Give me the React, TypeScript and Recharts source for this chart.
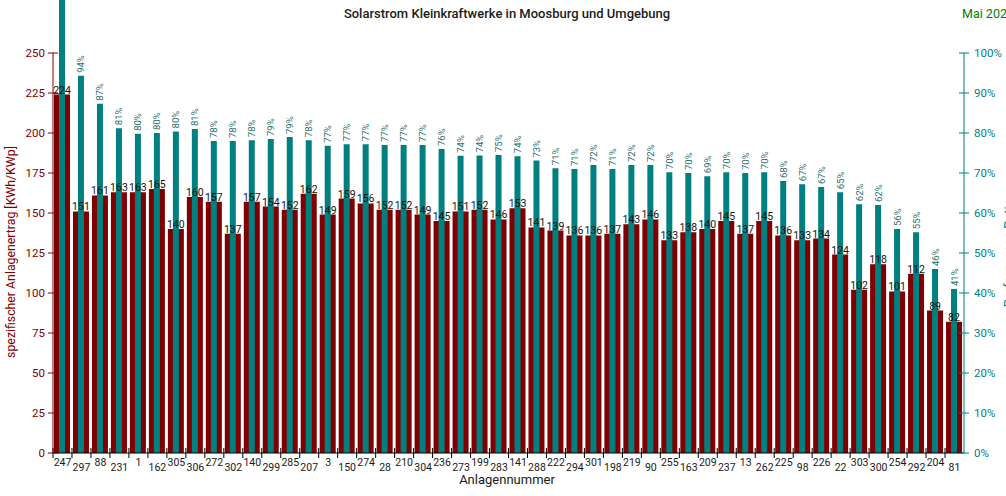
import React from 'react';
import { BarChart, Bar, XAxis, YAxis, LabelList } from 'recharts';

const categories: string[] = [
  '247', '297', '88', '231', '1', '162', '305', '306', '272', '302', '140', '299',
  '285', '207', '3', '150', '274', '28', '210', '304', '236', '273', '199', '283',
  '141', '288', '222', '294', '301', '198', '219', '90', '255', '163', '209', '237',
  '13', '262', '225', '98', '226', '22', '303', '300', '254', '292', '204', '81',
];

const ertrag: number[] = [
  224, 151, 161, 163, 163, 165, 140, 160, 157, 137, 157, 154,
  152, 162, 149, 159, 156, 152, 152, 149, 145, 151, 152, 146,
  153, 141, 139, 136, 136, 137, 143, 146, 133, 138, 140, 145,
  137, 145, 136, 133, 134, 124, 102, 118, 101, 112, 89, 82,
];

const performance: number[] = [
  1.16, 0.943, 0.873, 0.812, 0.798, 0.8, 0.804, 0.81, 0.78, 0.78, 0.782, 0.785,
  0.79, 0.782, 0.768, 0.772, 0.772, 0.77, 0.77, 0.77, 0.76, 0.743, 0.744, 0.745,
  0.742, 0.731, 0.712, 0.71, 0.72, 0.71, 0.72, 0.72, 0.702, 0.7, 0.692, 0.702,
  0.7, 0.702, 0.68, 0.672, 0.665, 0.652, 0.622, 0.62, 0.56, 0.552, 0.46, 0.41,
];

const leftTicks: number[] = [0, 25, 50, 75, 100, 125, 150, 175, 200, 225, 250];
const rightTicks: number[] = [0, 0.1, 0.2, 0.3, 0.4, 0.5, 0.6, 0.7, 0.8, 0.9, 1.0];

const data = categories.map((name, i) => ({
  name,
  ertrag: ertrag[i],
  pr: performance[i],
}));

const W = 1006;
const H = 496;
const LEFT_W = 53;
const RIGHT_W = 42;
const X_H = 43;
const PLOT_H = H - X_H; // 453
const PLOT_W = W - LEFT_W - RIGHT_W;
const BAND = PLOT_W / categories.length;
// top tick (250 / 100%) sits 53px below the plot's top edge
const TOP_GAP = 53;
const LEFT_MAX = 250 * PLOT_H / (PLOT_H - TOP_GAP);
const RIGHT_MAX = 1.0 * PLOT_H / (PLOT_H - TOP_GAP);

const RED = '#7f0000';
const TEAL = '#008080';
const FONT = 'Roboto, "Noto Sans", sans-serif';

const pct = (v: number) => `${Math.round(v * 100)}%`;

const XTick = (props: any) => {
  const { x, y, payload, index } = props;
  const bx = x - BAND / 2;
  return (
    <g>
      <line x1={bx} x2={bx} y1={y - 5} y2={y + 5} stroke="#000" strokeWidth={1} />
      <text
        x={x}
        y={y + (index % 2 === 0 ? 13 : 17.5)}
        textAnchor="middle"
        fontSize={10.5}
        fontFamily={FONT}
        fill="#1a1a1a"
      >
        {payload.value}
      </text>
    </g>
  );
};

const LeftTick = (props: any) => {
  const { x, y, payload } = props;
  const ax = x + 8;
  return (
    <g>
      <line x1={ax - 5} x2={ax + 5} y1={y} y2={y} stroke={RED} strokeWidth={1} />
      <text x={x} y={y} dy="0.36em" textAnchor="end" fontSize={11.5} fontFamily={FONT} fill={RED}>
        {payload.value}
      </text>
    </g>
  );
};

const RightTick = (props: any) => {
  const { x, y, payload } = props;
  const ax = x - 10;
  return (
    <g>
      <line x1={ax - 5} x2={ax + 5} y1={y} y2={y} stroke={TEAL} strokeWidth={1} />
      <text x={x} y={y} dy="0.36em" textAnchor="start" fontSize={11.5} fontFamily={FONT} fill={TEAL}>
        {pct(payload.value)}
      </text>
    </g>
  );
};

const TealLabel = (props: any) => {
  const { x, y, width, value } = props;
  if (value == null) return null;
  const cx = Number(x) + Number(width) / 2;
  const ty = Number(y) - 3;
  // label of a bar running past the top of the picture is not visible
  if (ty < 20) return null;
  return (
    <text
      x={cx}
      y={ty}
      transform={`rotate(-90 ${cx} ${ty})`}
      textAnchor="start"
      dominantBaseline="central"
      fontSize={9.5}
      fontFamily={FONT}
      fill="#2a6e6e"
    >
      {pct(Number(value))}
    </text>
  );
};

export default function App() {
  return (
    <div style={{ position: 'absolute', left: 0, top: 0, width: W, height: H, background: '#fff' }}>
      <BarChart
        width={W}
        height={H}
        data={data}
        margin={{ top: 0, right: 0, bottom: 0, left: 0 }}
      >
        <XAxis
          xAxisId="main"
          dataKey="name"
          type="category"
          interval={0}
          height={X_H}
          tickSize={0}
          tickMargin={0}
          tickLine={false}
          axisLine={{ stroke: '#000' }}
          tick={<XTick />}
        />
        <XAxis xAxisId="overlay" dataKey="name" orientation="top" height={0} hide />
        <XAxis xAxisId="labels" dataKey="name" orientation="top" height={0} hide />
        <YAxis
          yAxisId="left"
          orientation="left"
          width={LEFT_W}
          domain={[0, LEFT_MAX]}
          ticks={leftTicks}
          allowDataOverflow
          tickSize={0}
          tickMargin={8}
          tickLine={false}
          axisLine={{ stroke: RED, strokeDasharray: `0 ${TOP_GAP} ${PLOT_H}` }}
          tick={<LeftTick />}
        />
        <YAxis
          yAxisId="right"
          orientation="right"
          width={RIGHT_W}
          domain={[0, RIGHT_MAX]}
          ticks={rightTicks}
          allowDataOverflow
          tickSize={0}
          tickMargin={10}
          tickLine={false}
          axisLine={{ stroke: TEAL, strokeDasharray: `0 ${TOP_GAP} ${PLOT_H}` }}
          tick={<RightTick />}
        />
        <Bar
          xAxisId="main"
          yAxisId="left"
          dataKey="ertrag"
          fill={RED}
          barSize={16}
          isAnimationActive={false}
        />
        <Bar
          xAxisId="overlay"
          yAxisId="right"
          dataKey="pr"
          fill={TEAL}
          barSize={6}
          isAnimationActive={false}
        >
          <LabelList dataKey="pr" content={<TealLabel />} />
        </Bar>
        <Bar
          xAxisId="labels"
          yAxisId="left"
          dataKey="ertrag"
          fill="none"
          barSize={16}
          isAnimationActive={false}
        >
          <LabelList
            dataKey="ertrag"
            position="top"
            offset={1}
            fill="#111"
            fontSize={10.5}
            fontFamily={FONT}
          />
        </Bar>
      </BarChart>
      <svg
        width={W}
        height={H}
        style={{ position: 'absolute', left: 0, top: 0, pointerEvents: 'none' }}
      >
        <text x={507} y={18} textAnchor="middle" fontSize={13} fontWeight={500} fontFamily={FONT} fill="#1a1a1a">
          Solarstrom Kleinkraftwerke in Moosburg und Umgebung
        </text>
        <text x={962} y={18} fontSize={12.5} fontFamily={FONT} fill="#008000">
          Mai 2023
        </text>
        <text
          x={14.5}
          y={252}
          transform="rotate(-90 14.5 252)"
          textAnchor="middle"
          fontSize={12.3}
          fontFamily={FONT}
          fill={RED}
        >
          spezifischer Anlagenertrag [KWh/KWp]
        </text>
        <text
          x={1013}
          y={253}
          transform="rotate(-90 1013 253)"
          textAnchor="middle"
          fontSize={13}
          fontFamily={FONT}
          fill={TEAL}
        >
          Performance Ratio
        </text>
        <text x={507} y={484} textAnchor="middle" fontSize={13} fontFamily={FONT} fill="#1a1a1a">
          Anlagennummer
        </text>
      </svg>
    </div>
  );
}
